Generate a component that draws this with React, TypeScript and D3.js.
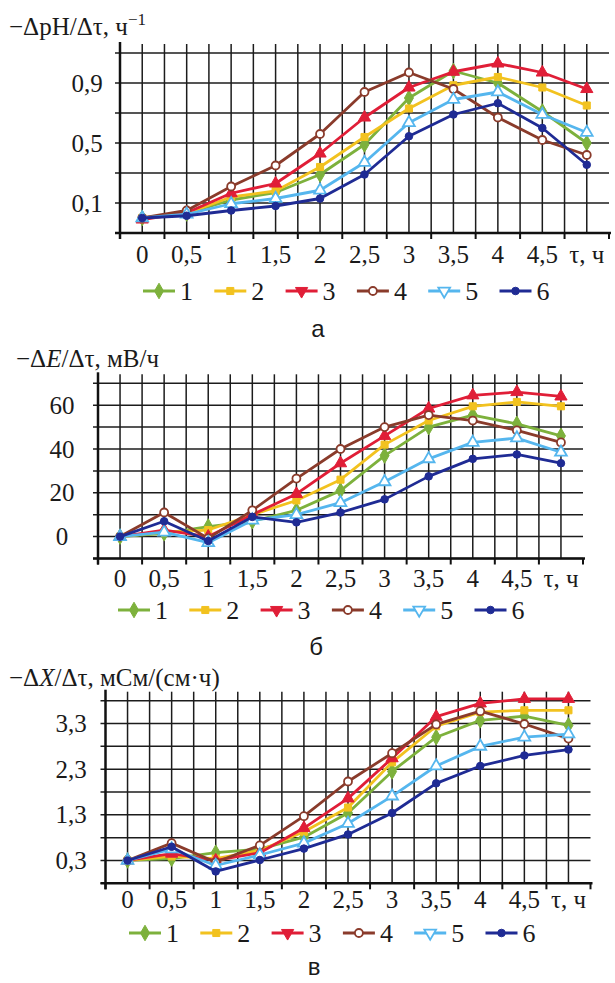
import React from "react";
import * as d3 from "d3";

// categories on the time axis (the last one carries the axis title)
const tauLabels = ["0", "0,5", "1", "1,5", "2", "2,5", "3", "3,5", "4", "4,5", "τ, ч"];
const seriesNames = ["1", "2", "3", "4", "5", "6"];
const seriesColors = ["#7db13c", "#f2c21f", "#e01e37", "#8a3b2b", "#55b6ee", "#1f2b94"];

// а: −ΔpH/Δτ
const phRates = [
  [0.0, 0.03, 0.12, 0.17, 0.29, 0.49, 0.8, 0.98, 0.9, 0.71, 0.5],
  [0.0, 0.03, 0.14, 0.18, 0.34, 0.54, 0.73, 0.885, 0.94, 0.87, 0.75],
  [-0.01, 0.035, 0.165, 0.23, 0.43, 0.67, 0.87, 0.975, 1.03, 0.97, 0.86],
  [0.0, 0.05, 0.21, 0.35, 0.56, 0.84, 0.97, 0.86, 0.67, 0.52, 0.42],
  [0.0, 0.025, 0.095, 0.13, 0.185, 0.37, 0.635, 0.79, 0.84, 0.69, 0.57],
  [0.0, 0.015, 0.05, 0.08, 0.13, 0.29, 0.545, 0.69, 0.765, 0.6, 0.355],
];
const phTicks = [0.1, 0.5, 0.9];

// б: −ΔE/Δτ
const eRates = [
  [0, 1.5, 4.6, 7, 12, 21, 37, 50, 55.5, 51.5, 46],
  [0, 2, 3, 10, 16.5, 26, 42, 53, 59.5, 61.5, 59.5],
  [0, 3, 0, 10, 19.5, 33.5, 46, 58.5, 64.5, 66, 64],
  [0, 11, -0.8, 12, 26.5, 40, 50, 55.5, 53, 48.5, 43],
  [0, 2, -2.8, 7.5, 10, 15.5, 25, 35.5, 43, 45, 38.5],
  [0, 7, -2, 9, 6.5, 11, 17, 27.5, 35.5, 37.5, 33.5],
];
const eTicks = [0, 20, 40, 60];

// в: −ΔX/Δτ
const xRates = [
  [0.3, 0.34, 0.47, 0.55, 0.81, 1.34, 2.25, 3.0, 3.37, 3.46, 3.26],
  [0.3, 0.39, 0.34, 0.52, 0.93, 1.46, 2.45, 3.24, 3.55, 3.59, 3.59],
  [0.3, 0.45, 0.3, 0.47, 1.01, 1.66, 2.54, 3.45, 3.74, 3.84, 3.84],
  [0.3, 0.68, 0.26, 0.63, 1.27, 2.03, 2.65, 3.28, 3.57, 3.29, 2.97],
  [0.3, 0.55, 0.19, 0.42, 0.68, 1.11, 1.71, 2.37, 2.8, 3.0, 3.07],
  [0.3, 0.6, 0.06, 0.31, 0.56, 0.87, 1.34, 1.99, 2.37, 2.6, 2.73],
];
const xTicks = [0.3, 1.3, 2.3, 3.3];

const SERIF = "'Liberation Serif', 'DejaVu Serif', serif";
const SANS = "'Liberation Sans', Arial, sans-serif";

const symbolTypes = [d3.symbolDiamond, d3.symbolSquare, d3.symbolTriangle, d3.symbolCircle, d3.symbolTriangle, d3.symbolCircle];
const symbolSizes = [70, 50, 65, 50, 60, 45];
const hollow = [false, false, false, true, true, false];

const Marker = ({ i, x, y, flip = false }) => {
  const path = d3.symbol().type(symbolTypes[i]).size(symbolSizes[i])();
  return (
    <path
      d={path}
      transform={`translate(${x},${y})${flip ? " rotate(180)" : ""}`}
      fill={hollow[i] ? "#fff" : seriesColors[i]}
      stroke={seriesColors[i]}
      strokeWidth={hollow[i] ? 1.8 : 1}
    />
  );
};

const Panel = ({ data, ticks, domain, gridStep, x0, x1, yBottom, yTop, labelX, tickBaseline, legendY, legendX, title, titleX, titleY, letter, letterX, letterY }) => {
  const xScale = d3.scaleBand().domain(tauLabels).range([x0, x1]);
  const yScale = d3.scaleLinear().domain(domain).range([yBottom, yTop]);
  const band = xScale.bandwidth();
  const plotTop = yTop - 11;
  const gridVals = d3.range(domain[0], domain[1] + gridStep / 2, gridStep);
  const vLines = d3.range(0, tauLabels.length * 2).map((k) => x0 + (k * band) / 2);
  const line = d3
    .line()
    .x((_, j) => xScale(tauLabels[j]) + band / 2)
    .y((d) => yScale(d));

  return (
    <g>
      {/* grid */}
      {gridVals.map((v) => (
        <line key={"h" + v} x1={x0 - 5} x2={x1} y1={yScale(v)} y2={yScale(v)} stroke="#1c1c1c" strokeWidth={1.5} />
      ))}
      {vLines.slice(1).map((x) => (
        <line key={"v" + x} x1={x} x2={x} y1={plotTop + 2} y2={yBottom} stroke="#1c1c1c" strokeWidth={1.5} />
      ))}
      {/* axes */}
      <line x1={x0} x2={x0} y1={plotTop} y2={yBottom + 6} stroke="#111" strokeWidth={2.5} />
      <line x1={x0 - 5} x2={x1 + 2} y1={yBottom} y2={yBottom} stroke="#111" strokeWidth={2.5} />
      {d3.range(0, tauLabels.length + 1).map((k) => (
        <line key={"t" + k} x1={x0 + k * band} x2={x0 + k * band} y1={yBottom} y2={yBottom + 6} stroke="#111" strokeWidth={2} />
      ))}
      {ticks.map((t) => (
        <text key={"yl" + t} x={labelX} y={yScale(t)} dy="0.34em" textAnchor="middle" fontFamily={SERIF} fontSize={25} fill="#1a1a1a">
          {String(t).replace(".", ",")}
        </text>
      ))}
      {tauLabels.map((c) => (
        <text key={"xl" + c} x={xScale(c) + band / 2} y={tickBaseline} textAnchor="middle" fontFamily={SERIF} fontSize={25} fill="#1a1a1a">
          {c}
        </text>
      ))}
      {/* series */}
      {data.map((s, i) => (
        <g key={"s" + i}>
          <path d={line(s)} fill="none" stroke={seriesColors[i]} strokeWidth={2.8} strokeLinejoin="round" />
          {s.map((v, j) => (
            <Marker key={j} i={i} x={xScale(tauLabels[j]) + band / 2} y={yScale(v)} />
          ))}
        </g>
      ))}
      {/* legend */}
      {seriesNames.map((n, i) => {
        const lx = legendX + i * 71.3;
        return (
          <g key={"lg" + n}>
            <line x1={lx} x2={lx + 32} y1={legendY} y2={legendY} stroke={seriesColors[i]} strokeWidth={3} />
            <Marker i={i} x={lx + 16} y={legendY} flip={i === 2 || i === 4} />
            <text x={lx + 37} y={legendY} dy="0.36em" fontFamily={SERIF} fontSize={26} fill="#1a1a1a">
              {n}
            </text>
          </g>
        );
      })}
      <text x={titleX} y={titleY} fontFamily={SERIF} fontSize={25} fill="#1a1a1a">
        {title}
      </text>
      <text x={letterX} y={letterY} textAnchor="middle" fontFamily={SANS} fontSize={24} fill="#1a1a1a">
        {letter}
      </text>
    </g>
  );
};

export default function App() {
  return (
    <svg width={615} height={983} style={{ position: "absolute", left: 0, top: 0, background: "#fff" }}>
      <Panel
        data={phRates}
        ticks={phTicks}
        domain={[-0.1, 1.1]}
        gridStep={0.2}
        x0={120}
        x1={609}
        yBottom={233}
        yTop={53}
        labelX={87}
        tickBaseline={263}
        legendX={143}
        legendY={291}
        title={
          <>
            −ΔpH/Δτ, ч
            <tspan dy={-10} fontSize={17}>−1</tspan>
          </>
        }
        titleX={9}
        titleY={35}
        letter="а"
        letterX={318}
        letterY={337}
      />
      <Panel
        data={eRates}
        ticks={eTicks}
        domain={[-10, 70]}
        gridStep={10}
        x0={98}
        x1={583}
        yBottom={558.5}
        yTop={383.3}
        labelX={62}
        tickBaseline={587}
        legendX={118}
        legendY={610}
        title={
          <>
            −Δ<tspan fontStyle="italic">E</tspan>/Δτ, мВ/ч
          </>
        }
        titleX={16}
        titleY={367}
        letter="б"
        letterX={316}
        letterY={655}
      />
      <Panel
        data={xRates}
        ticks={xTicks}
        domain={[-0.2, 3.8]}
        gridStep={0.5}
        x0={105.5}
        x1={590.5}
        yBottom={883.3}
        yTop={700.7}
        labelX={71}
        tickBaseline={908}
        legendX={129}
        legendY={933}
        title={
          <>
            −Δ<tspan fontStyle="italic">X</tspan>/Δτ, мСм/(см·ч)
          </>
        }
        titleX={9}
        titleY={686}
        letter="в"
        letterX={314}
        letterY={975}
      />
    </svg>
  );
}
